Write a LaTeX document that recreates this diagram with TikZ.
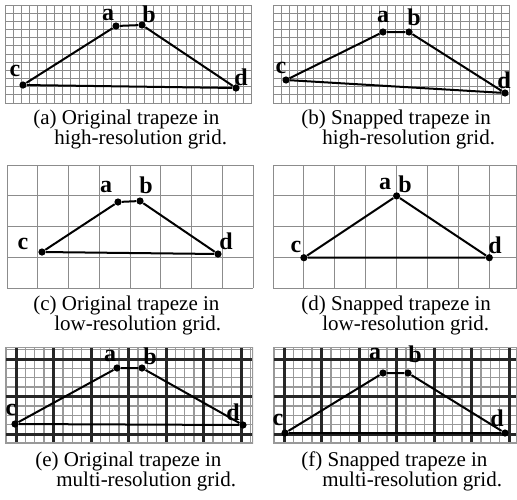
\documentclass[tikz,border=0pt]{standalone}
\usepackage{fontspec}
\setmainfont{Liberation Serif}
\usetikzlibrary{positioning}

\begin{document}
\begin{tikzpicture}[x=0.5pt, y=-0.5pt,
    pt/.style={circle, fill=black, inner sep=0pt, minimum size=3.6pt},
    lbl/.style={font=\fontsize{12}{14}\selectfont\bfseries, inner sep=0pt},
    trap/.style={line width=1pt, black},
    fine/.style={black!45, line width=0.5pt},
    subfine/.style={black!40, line width=0.7pt},
    coarse/.style={black!85, line width=1.5pt},
    subcap/.style={font=\fontsize{10.5}{9.75}\selectfont, inner sep=0pt, align=left, anchor=base west}]
\useasboundingbox (0,0) rectangle (517,499);

% (a) high-resolution grid
\foreach \i in {0,...,30} \draw[fine] ({5+\i*8.23},5) -- ({5+\i*8.23},103);
\foreach \j in {0,...,12} \draw[fine] (5,{5+\j*8.17}) -- (252,{5+\j*8.17});
\node[pt] (a1) at (116,26) {};
\node[pt] (b1) at (142,25) {};
\node[pt] (c1) at (23,85) {};
\node[pt] (d1) at (236,88) {};
\draw[trap] (c1) -- (a1) -- (b1) -- (d1) -- (c1);
\node[lbl] (la1) at (108,15) {a};
\node[lbl] (lb1) at (149,14) {b};
\node[lbl] (lc1) at (15,71) {c};
\node[lbl] (ld1) at (241,77) {d};

% (b) snapped, high-resolution grid
\foreach \i in {0,...,29} \draw[fine] ({273+\i*8.17},5) -- ({273+\i*8.17},103);
\foreach \j in {0,...,12} \draw[fine] (273,{5+\j*8.17}) -- (510,{5+\j*8.17});
\node[pt] (a2) at (383,32) {};
\node[pt] (b2) at (409,32) {};
\node[pt] (c2) at (286,80) {};
\node[pt] (d2) at (505,93) {};
\draw[trap] (c2) -- (a2) -- (b2) -- (d2) -- (c2);
\node[lbl] (la2) at (383,17) {a};
\node[lbl] (lb2) at (414,17) {b};
\node[lbl] (lc2) at (281,68) {c};
\node[lbl] (ld2) at (504,80) {d};

% (c) low-resolution grid
\foreach \i in {0,...,8} \draw[fine] ({7+\i*30.75},165) -- ({7+\i*30.75},288);
\foreach \j in {0,...,4} \draw[fine] (7,{165+\j*30.75}) -- (253,{165+\j*30.75});
\node[pt] (a3) at (118,202) {};
\node[pt] (b3) at (140,201) {};
\node[pt] (c3) at (42,252) {};
\node[pt] (d3) at (218,254) {};
\draw[trap] (c3) -- (a3) -- (b3) -- (d3) -- (c3);
\node[lbl] (la3) at (106,187) {a};
\node[lbl] (lb3) at (146,185) {b};
\node[lbl] (lc3) at (23,244) {c};
\node[lbl] (ld3) at (226,241) {d};

% (d) snapped, low-resolution grid
\foreach \i in {0,...,7} \draw[fine] ({273+\i*30.9},165) -- ({273+\i*30.9},288.6);
\draw[fine] (516.5,165) -- (516.5,288.6);
\foreach \j in {0,...,4} \draw[fine] (273,{165+\j*30.9}) -- (516.5,{165+\j*30.9});
\node[pt] (ab4) at (396.6,195.9) {};
\node[pt] (c4) at (303.9,257.7) {};
\node[pt] (d4) at (489.3,257.7) {};
\draw[trap] (c4) -- (ab4) -- (d4) -- (c4);
\node[lbl] (la4) at (385,184) {a};
\node[lbl] (lb4) at (405,184) {b};
\node[lbl] (lc4) at (296,247) {c};
\node[lbl] (ld4) at (495,245) {d};

% (e) multi-resolution grid
\begin{scope}
\clip (5,347) rectangle (253,443);
\foreach \m in {-1,...,25} \draw[subfine] ({16+\m*9.375},347) -- ({16+\m*9.375},443);
\foreach \m in {-2,...,9} \draw[subfine] (5,{359+\m*9.375}) -- (253,{359+\m*9.375});
\foreach \k in {0,...,6} \draw[coarse] ({16+\k*37.5},347) -- ({16+\k*37.5},443);
\foreach \k in {0,...,2} \draw[coarse] (5,{359+\k*37.5}) -- (253,{359+\k*37.5});
\draw[subfine] (5,347) rectangle (253,443);
\end{scope}
\node[pt] (a5) at (117,368) {};
\node[pt] (b5) at (142,368) {};
\node[pt] (c5) at (15,424) {};
\node[pt] (d5) at (243,425) {};
\draw[trap] (c5) -- (a5) -- (b5) -- (d5) -- (c5);
\node[lbl] (la5) at (110,356) {a};
\node[lbl] (lb5) at (150,356) {b};
\node[lbl] (lc5) at (11,410) {c};
\node[lbl] (ld5) at (233,412) {d};

% (f) snapped, multi-resolution grid
\begin{scope}
\clip (273,347) rectangle (517,443);
\foreach \m in {-2,...,25} \draw[subfine] ({284+\m*9.375},347) -- ({284+\m*9.375},443);
\foreach \m in {-2,...,9} \draw[subfine] (273,{359+\m*9.375}) -- (517,{359+\m*9.375});
\foreach \k in {0,...,6} \draw[coarse] ({284+\k*37.5},347) -- ({284+\k*37.5},443);
\foreach \k in {0,...,2} \draw[coarse] (273,{359+\k*37.5}) -- (517,{359+\k*37.5});
\draw[subfine] (273,347) rectangle (517,443);
\end{scope}
\node[pt] (a6) at (383,373) {};
\node[pt] (b6) at (408,373) {};
\node[pt] (c6) at (285,433) {};
\node[pt] (d6) at (505,433) {};
\draw[trap] (c6) -- (a6) -- (b6) -- (d6) -- (c6);
\node[lbl] (la6) at (375,354) {a};
\node[lbl] (lb6) at (415,354) {b};
\node[lbl] (lc6) at (278,420) {c};
\node[lbl] (ld6) at (497,418) {d};

% captions
\node[subcap] (capA) at (33,144) {(a) Original trapeze in\\\hspace*{1em}high-resolution grid.};
\node[subcap] (capB) at (301,144) {(b) Snapped trapeze in\\\hspace*{1em}high-resolution grid.};
\node[subcap] (capC) at (33,330) {(c) Original trapeze in\\\hspace*{1em}low-resolution grid.};
\node[subcap] (capD) at (301,330) {(d) Snapped trapeze in\\\hspace*{1em}low-resolution grid.};
\node[subcap] (capE) at (35,486) {(e) Original trapeze in\\\hspace*{1em}multi-resolution grid.};
\node[subcap] (capF) at (301,486) {(f) Snapped trapeze in\\\hspace*{1em}multi-resolution grid.};
\end{tikzpicture}
\end{document}
